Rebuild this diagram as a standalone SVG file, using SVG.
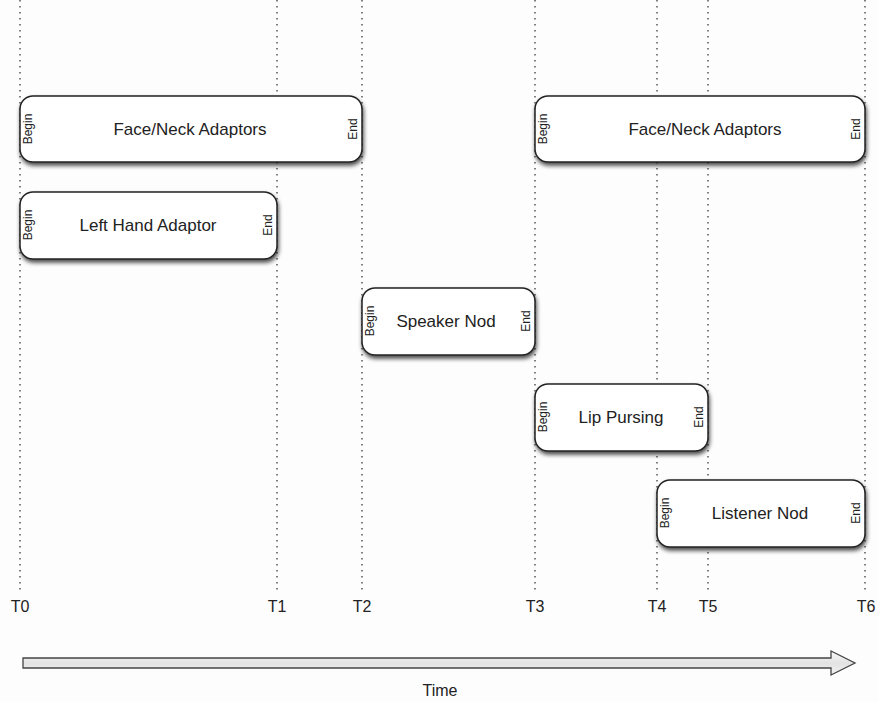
<svg xmlns="http://www.w3.org/2000/svg" width="878" height="702" viewBox="0 0 878 702">
<style>
.guide{stroke:#555;stroke-width:1.5;stroke-dasharray:1.5 4.5;fill:none}
.box{fill:#fff;stroke:#222;stroke-width:1.5;filter:url(#sh)}
.lbl{font-family:"Liberation Sans",Arial,sans-serif;font-size:17px;fill:#222;text-anchor:middle;dominant-baseline:central}
.side{font-family:"Liberation Sans",Arial,sans-serif;font-size:12px;fill:#222;text-anchor:middle;dominant-baseline:central}
.tl{font-family:"Liberation Sans",Arial,sans-serif;font-size:16px;fill:#222;text-anchor:middle}
</style>
<defs>
<filter id="sh" x="-10%" y="-20%" width="120%" height="150%">
<feDropShadow dx="1" dy="3" stdDeviation="2" flood-color="#000" flood-opacity="0.7"/>
</filter>
<linearGradient id="ag" x1="0" y1="0" x2="0" y2="1">
<stop offset="0" stop-color="#fafafa"/>
<stop offset="0.5" stop-color="#e2e2e2"/>
<stop offset="1" stop-color="#f2f2f2"/>
</linearGradient>
</defs>
<rect width="878" height="702" fill="#fdfdfd"/>
<g id="connectors">
<line class="guide" x1="20" y1="0" x2="20" y2="592"/>
<line class="guide" x1="277" y1="0" x2="277" y2="592"/>
<line class="guide" x1="362" y1="0" x2="362" y2="592"/>
<line class="guide" x1="535" y1="0" x2="535" y2="592"/>
<line class="guide" x1="657" y1="0" x2="657" y2="592"/>
<line class="guide" x1="708" y1="0" x2="708" y2="592"/>
<line class="guide" x1="865" y1="0" x2="865" y2="592"/>
</g>
<g id="face1">
<rect class="box" x="20" y="96" width="342" height="66" rx="13"/>
<text class="lbl" x="190" y="129">Face/Neck Adaptors</text>
<text class="side" transform="translate(28,129) rotate(-90)">Begin</text>
<text class="side" transform="translate(353,129) rotate(-90)">End</text>
</g>
<g id="lefthand">
<rect class="box" x="20" y="192" width="257" height="67" rx="13"/>
<text class="lbl" x="148" y="225">Left Hand Adaptor</text>
<text class="side" transform="translate(28,225) rotate(-90)">Begin</text>
<text class="side" transform="translate(268,225) rotate(-90)">End</text>
</g>
<g id="speakernod">
<rect class="box" x="362" y="288" width="173" height="67" rx="13"/>
<text class="lbl" x="446" y="321">Speaker Nod</text>
<text class="side" transform="translate(370,321) rotate(-90)">Begin</text>
<text class="side" transform="translate(526,321) rotate(-90)">End</text>
</g>
<g id="lippursing">
<rect class="box" x="535" y="384" width="173" height="67" rx="13"/>
<text class="lbl" x="621" y="417">Lip Pursing</text>
<text class="side" transform="translate(543,417) rotate(-90)">Begin</text>
<text class="side" transform="translate(699,417) rotate(-90)">End</text>
</g>
<g id="listenernod">
<rect class="box" x="657" y="480" width="208" height="67" rx="13"/>
<text class="lbl" x="760" y="513">Listener Nod</text>
<text class="side" transform="translate(665,513) rotate(-90)">Begin</text>
<text class="side" transform="translate(856,513) rotate(-90)">End</text>
</g>
<g id="face2">
<rect class="box" x="535" y="96" width="330" height="66" rx="13"/>
<text class="lbl" x="705" y="129">Face/Neck Adaptors</text>
<text class="side" transform="translate(543,129) rotate(-90)">Begin</text>
<text class="side" transform="translate(856,129) rotate(-90)">End</text>
</g>
<g id="ticks">
<text class="tl" x="20" y="612">T0</text>
<text class="tl" x="277" y="612">T1</text>
<text class="tl" x="362" y="612">T2</text>
<text class="tl" x="535" y="612">T3</text>
<text class="tl" x="657" y="612">T4</text>
<text class="tl" x="708" y="612">T5</text>
<text class="tl" x="866" y="612">T6</text>
</g>
<g id="timearrow">
<path d="M23,658 H831 V651 L855,663 L831,675 V668 H23 Z" fill="url(#ag)" stroke="#444" stroke-width="1.3"/>
<text class="tl" x="440" y="696">Time</text>
</g>
</svg>
